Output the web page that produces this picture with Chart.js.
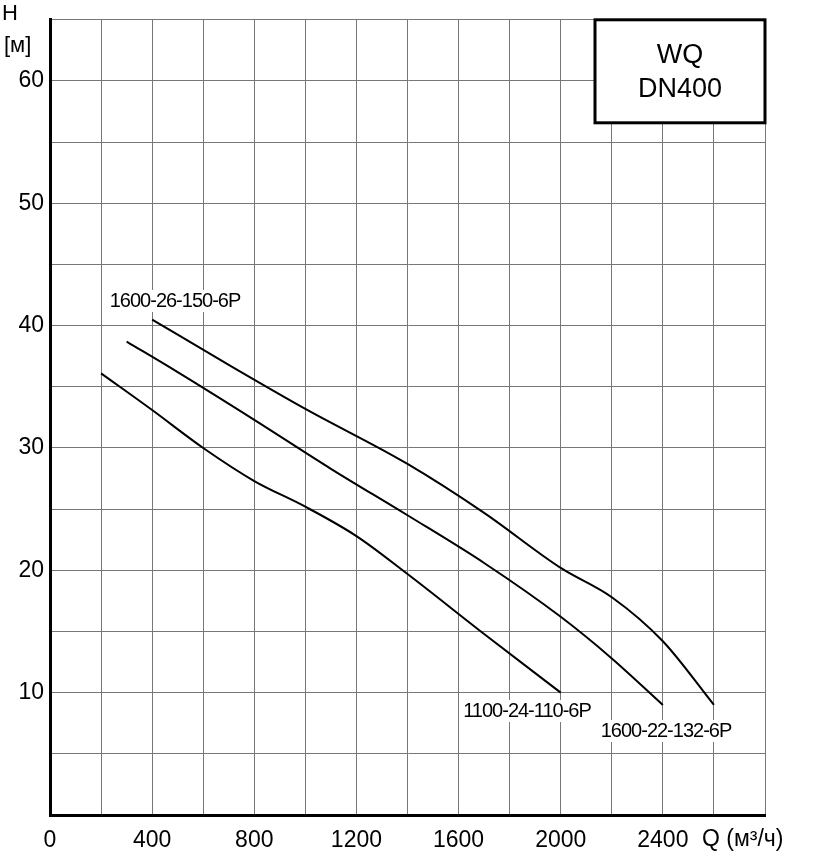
<!DOCTYPE html>
<html>
<head>
<meta charset="utf-8">
<script src="https://cdn.jsdelivr.net/npm/chart.js@4"></script>
<style>
  html, body { margin: 0; padding: 0; background: #fff; }
  #wrap { width: 813px; height: 867px; }
</style>
</head>
<body>
<div id="wrap"><canvas id="pumpChart"></canvas></div>
<script>
// Q (m3/h) and H (m)
const curveNames = ['1600-26-150-6P', '1600-22-132-6P', '1100-24-110-6P'];
const flowTop = [400, 700, 1000, 1400, 1700, 2000, 2200, 2400, 2600];
const headTop = [40.5, 36.8, 33.2, 28.7, 24.7, 20.2, 17.8, 14.2, 9.0];
const flowMid = [300, 500, 800, 1100, 1400, 1700, 2000, 2200, 2400];
const headMid = [38.7, 36.2, 32.3, 28.3, 24.5, 20.6, 16.2, 12.8, 9.0];
const flowLow = [200, 400, 600, 800, 1000, 1200, 1400, 1700, 2000];
const headLow = [36.1, 33.1, 30.0, 27.3, 25.2, 22.8, 19.7, 14.8, 10.0];
const xTickLabels = [0, 400, 800, 1200, 1600, 2000, 2400];
const yTickLabels = [10, 20, 30, 40, 50, 60];

const toPoints = (xs, ys) => xs.map((x, i) => ({ x: x, y: ys[i] }));
const FONT = '"Liberation Sans", Arial, sans-serif';

// extra text: axis names, title box, curve labels
const annotations = {
    id: 'annotations',
    afterDraw(chart) {
        const { ctx, chartArea: a } = chart;
        ctx.save();
        ctx.fillStyle = '#000';
        ctx.font = '22px ' + FONT;
        ctx.textBaseline = 'middle';
        ctx.textAlign = 'left';
        ctx.fillText('H', 2, 14);
        ctx.fillText('[м]', 4, 46);
        ctx.font = '23px ' + FONT;
        ctx.fillText('Q (м³/ч)', 702, 840);

        // title box
        const bx = 595, by = a.top, bw = a.right - 595, bh = 103;
        ctx.fillStyle = '#fff';
        ctx.fillRect(bx, by, bw, bh);
        ctx.strokeStyle = '#000';
        ctx.lineWidth = 3;
        ctx.strokeRect(bx, by, bw, bh);
        ctx.fillStyle = '#000';
        ctx.textAlign = 'center';
        ctx.font = '27px ' + FONT;
        ctx.fillText('WQ', bx + bw / 2, by + 36);
        ctx.fillText('DN400', bx + bw / 2, by + 70);

        // curve labels
        ctx.font = '20px ' + FONT;
        ctx.letterSpacing = '-1px';
        const labels = [
            [curveNames[0], 175, 301],
            [curveNames[2], 527, 711],
            [curveNames[1], 666, 731]
        ];
        labels.forEach(([t, cx, cy]) => {
            const w = ctx.measureText(t).width;
            ctx.fillStyle = '#fff';
            ctx.fillRect(cx - w / 2 - 2, cy - 11, w + 4, 22);
            ctx.fillStyle = '#000';
            ctx.fillText(t, cx, cy);
        });
        ctx.restore();
    }
};

const lineStyle = {
    borderColor: '#000',
    borderWidth: 2,
    pointRadius: 0,
    fill: false,
    cubicInterpolationMode: 'monotone'
};

new Chart(document.getElementById('pumpChart'), {
    type: 'line',
    data: {
        datasets: [
            { label: curveNames[0], data: toPoints(flowTop, headTop), ...lineStyle },
            { label: curveNames[1], data: toPoints(flowMid, headMid), ...lineStyle },
            { label: curveNames[2], data: toPoints(flowLow, headLow), ...lineStyle }
        ]
    },
    options: {
        responsive: true,
        maintainAspectRatio: false,
        animation: false,
        layout: { padding: { top: 6, right: 48, left: 0, bottom: 0 } },
        plugins: { legend: { display: false }, tooltip: { enabled: false } },
        scales: {
            x: {
                type: 'linear',
                min: 0,
                max: 2800,
                afterFit: (s) => { s.height = 52; },
                grid: { color: '#777', lineWidth: 1, drawTicks: false },
                border: { color: '#000', width: 3 },
                ticks: {
                    stepSize: 200,
                    padding: 12,
                    color: '#000',
                    maxRotation: 0,
                    autoSkip: false,
                    font: { size: 23, family: FONT },
                    callback: (v) => xTickLabels.includes(v) ? String(v) : ''
                }
            },
            y: {
                min: 0,
                max: 65,
                afterFit: (s) => { s.width = 50; },
                grid: { color: '#777', lineWidth: 1, drawTicks: false },
                border: { color: '#000', width: 3 },
                ticks: {
                    stepSize: 5,
                    padding: 6,
                    color: '#000',
                    autoSkip: false,
                    font: { size: 23, family: FONT },
                    callback: (v) => yTickLabels.includes(v) ? String(v) : ''
                }
            }
        }
    },
    plugins: [annotations]
});
</script>
</body>
</html>
